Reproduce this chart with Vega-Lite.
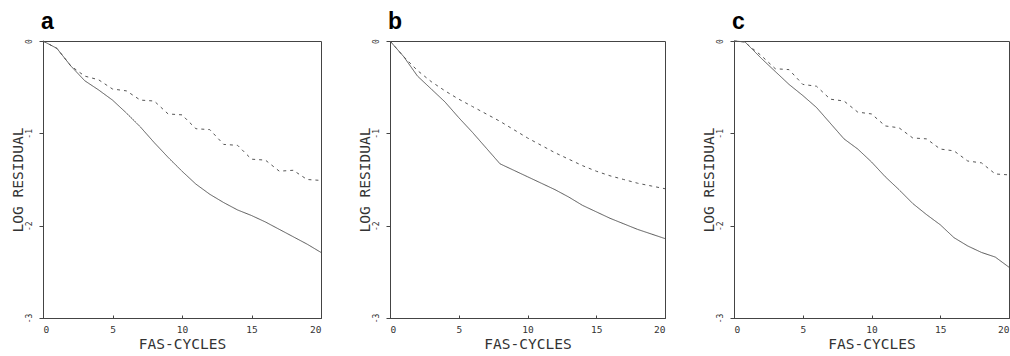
{
  "$schema": "https://vega.github.io/schema/vega-lite/v6.json",
  "padding": {"left": 10, "top": 10, "right": 0, "bottom": 0},
  "background": "white",
  "datasets": {
    "residuals": [
      {"panel": "a", "curve": "solid", "cycle": 0, "log_residual": 0},
      {"panel": "a", "curve": "solid", "cycle": 1, "log_residual": -0.08},
      {"panel": "a", "curve": "solid", "cycle": 2, "log_residual": -0.27},
      {"panel": "a", "curve": "solid", "cycle": 3, "log_residual": -0.43},
      {"panel": "a", "curve": "solid", "cycle": 4, "log_residual": -0.53},
      {"panel": "a", "curve": "solid", "cycle": 5, "log_residual": -0.64},
      {"panel": "a", "curve": "solid", "cycle": 6, "log_residual": -0.78},
      {"panel": "a", "curve": "solid", "cycle": 7, "log_residual": -0.93},
      {"panel": "a", "curve": "solid", "cycle": 8, "log_residual": -1.10},
      {"panel": "a", "curve": "solid", "cycle": 9, "log_residual": -1.26},
      {"panel": "a", "curve": "solid", "cycle": 10, "log_residual": -1.41},
      {"panel": "a", "curve": "solid", "cycle": 11, "log_residual": -1.55},
      {"panel": "a", "curve": "solid", "cycle": 12, "log_residual": -1.66},
      {"panel": "a", "curve": "solid", "cycle": 13, "log_residual": -1.75},
      {"panel": "a", "curve": "solid", "cycle": 14, "log_residual": -1.83},
      {"panel": "a", "curve": "solid", "cycle": 15, "log_residual": -1.89},
      {"panel": "a", "curve": "solid", "cycle": 16, "log_residual": -1.96},
      {"panel": "a", "curve": "solid", "cycle": 17, "log_residual": -2.04},
      {"panel": "a", "curve": "solid", "cycle": 18, "log_residual": -2.12},
      {"panel": "a", "curve": "solid", "cycle": 19, "log_residual": -2.20},
      {"panel": "a", "curve": "solid", "cycle": 20, "log_residual": -2.29},
      {"panel": "a", "curve": "dashed", "cycle": 0, "log_residual": 0},
      {"panel": "a", "curve": "dashed", "cycle": 1, "log_residual": -0.08},
      {"panel": "a", "curve": "dashed", "cycle": 2, "log_residual": -0.27},
      {"panel": "a", "curve": "dashed", "cycle": 3, "log_residual": -0.38},
      {"panel": "a", "curve": "dashed", "cycle": 4, "log_residual": -0.42},
      {"panel": "a", "curve": "dashed", "cycle": 5, "log_residual": -0.52},
      {"panel": "a", "curve": "dashed", "cycle": 6, "log_residual": -0.54},
      {"panel": "a", "curve": "dashed", "cycle": 7, "log_residual": -0.64},
      {"panel": "a", "curve": "dashed", "cycle": 8, "log_residual": -0.65},
      {"panel": "a", "curve": "dashed", "cycle": 9, "log_residual": -0.79},
      {"panel": "a", "curve": "dashed", "cycle": 10, "log_residual": -0.80},
      {"panel": "a", "curve": "dashed", "cycle": 11, "log_residual": -0.95},
      {"panel": "a", "curve": "dashed", "cycle": 12, "log_residual": -0.96},
      {"panel": "a", "curve": "dashed", "cycle": 13, "log_residual": -1.12},
      {"panel": "a", "curve": "dashed", "cycle": 14, "log_residual": -1.13},
      {"panel": "a", "curve": "dashed", "cycle": 15, "log_residual": -1.28},
      {"panel": "a", "curve": "dashed", "cycle": 16, "log_residual": -1.29},
      {"panel": "a", "curve": "dashed", "cycle": 17, "log_residual": -1.41},
      {"panel": "a", "curve": "dashed", "cycle": 18, "log_residual": -1.40},
      {"panel": "a", "curve": "dashed", "cycle": 19, "log_residual": -1.50},
      {"panel": "a", "curve": "dashed", "cycle": 20, "log_residual": -1.51},
      {"panel": "b", "curve": "solid", "cycle": 0, "log_residual": 0},
      {"panel": "b", "curve": "solid", "cycle": 1, "log_residual": -0.17},
      {"panel": "b", "curve": "solid", "cycle": 2, "log_residual": -0.38},
      {"panel": "b", "curve": "solid", "cycle": 3, "log_residual": -0.52},
      {"panel": "b", "curve": "solid", "cycle": 4, "log_residual": -0.66},
      {"panel": "b", "curve": "solid", "cycle": 5, "log_residual": -0.83},
      {"panel": "b", "curve": "solid", "cycle": 6, "log_residual": -0.99},
      {"panel": "b", "curve": "solid", "cycle": 7, "log_residual": -1.16},
      {"panel": "b", "curve": "solid", "cycle": 8, "log_residual": -1.33},
      {"panel": "b", "curve": "solid", "cycle": 9, "log_residual": -1.40},
      {"panel": "b", "curve": "solid", "cycle": 10, "log_residual": -1.47},
      {"panel": "b", "curve": "solid", "cycle": 11, "log_residual": -1.54},
      {"panel": "b", "curve": "solid", "cycle": 12, "log_residual": -1.61},
      {"panel": "b", "curve": "solid", "cycle": 13, "log_residual": -1.69},
      {"panel": "b", "curve": "solid", "cycle": 14, "log_residual": -1.78},
      {"panel": "b", "curve": "solid", "cycle": 15, "log_residual": -1.85},
      {"panel": "b", "curve": "solid", "cycle": 16, "log_residual": -1.92},
      {"panel": "b", "curve": "solid", "cycle": 17, "log_residual": -1.98},
      {"panel": "b", "curve": "solid", "cycle": 18, "log_residual": -2.04},
      {"panel": "b", "curve": "solid", "cycle": 19, "log_residual": -2.09},
      {"panel": "b", "curve": "solid", "cycle": 20, "log_residual": -2.14},
      {"panel": "b", "curve": "dashed", "cycle": 0, "log_residual": 0},
      {"panel": "b", "curve": "dashed", "cycle": 1, "log_residual": -0.17},
      {"panel": "b", "curve": "dashed", "cycle": 2, "log_residual": -0.32},
      {"panel": "b", "curve": "dashed", "cycle": 3, "log_residual": -0.44},
      {"panel": "b", "curve": "dashed", "cycle": 4, "log_residual": -0.54},
      {"panel": "b", "curve": "dashed", "cycle": 5, "log_residual": -0.63},
      {"panel": "b", "curve": "dashed", "cycle": 6, "log_residual": -0.71},
      {"panel": "b", "curve": "dashed", "cycle": 7, "log_residual": -0.79},
      {"panel": "b", "curve": "dashed", "cycle": 8, "log_residual": -0.87},
      {"panel": "b", "curve": "dashed", "cycle": 9, "log_residual": -0.96},
      {"panel": "b", "curve": "dashed", "cycle": 10, "log_residual": -1.05},
      {"panel": "b", "curve": "dashed", "cycle": 11, "log_residual": -1.13},
      {"panel": "b", "curve": "dashed", "cycle": 12, "log_residual": -1.21},
      {"panel": "b", "curve": "dashed", "cycle": 13, "log_residual": -1.28},
      {"panel": "b", "curve": "dashed", "cycle": 14, "log_residual": -1.35},
      {"panel": "b", "curve": "dashed", "cycle": 15, "log_residual": -1.41},
      {"panel": "b", "curve": "dashed", "cycle": 16, "log_residual": -1.46},
      {"panel": "b", "curve": "dashed", "cycle": 17, "log_residual": -1.50},
      {"panel": "b", "curve": "dashed", "cycle": 18, "log_residual": -1.54},
      {"panel": "b", "curve": "dashed", "cycle": 19, "log_residual": -1.57},
      {"panel": "b", "curve": "dashed", "cycle": 20, "log_residual": -1.60},
      {"panel": "c", "curve": "solid", "cycle": 0, "log_residual": 0},
      {"panel": "c", "curve": "solid", "cycle": 0.8, "log_residual": -0.01},
      {"panel": "c", "curve": "solid", "cycle": 1, "log_residual": -0.04},
      {"panel": "c", "curve": "solid", "cycle": 2, "log_residual": -0.19},
      {"panel": "c", "curve": "solid", "cycle": 3, "log_residual": -0.33},
      {"panel": "c", "curve": "solid", "cycle": 4, "log_residual": -0.47},
      {"panel": "c", "curve": "solid", "cycle": 5, "log_residual": -0.59},
      {"panel": "c", "curve": "solid", "cycle": 6, "log_residual": -0.72},
      {"panel": "c", "curve": "solid", "cycle": 7, "log_residual": -0.89},
      {"panel": "c", "curve": "solid", "cycle": 8, "log_residual": -1.06},
      {"panel": "c", "curve": "solid", "cycle": 9, "log_residual": -1.17},
      {"panel": "c", "curve": "solid", "cycle": 10, "log_residual": -1.31},
      {"panel": "c", "curve": "solid", "cycle": 11, "log_residual": -1.47},
      {"panel": "c", "curve": "solid", "cycle": 12, "log_residual": -1.61},
      {"panel": "c", "curve": "solid", "cycle": 13, "log_residual": -1.76},
      {"panel": "c", "curve": "solid", "cycle": 14, "log_residual": -1.88},
      {"panel": "c", "curve": "solid", "cycle": 15, "log_residual": -1.99},
      {"panel": "c", "curve": "solid", "cycle": 16, "log_residual": -2.13},
      {"panel": "c", "curve": "solid", "cycle": 17, "log_residual": -2.22},
      {"panel": "c", "curve": "solid", "cycle": 18, "log_residual": -2.29},
      {"panel": "c", "curve": "solid", "cycle": 19, "log_residual": -2.34},
      {"panel": "c", "curve": "solid", "cycle": 20, "log_residual": -2.45},
      {"panel": "c", "curve": "dashed", "cycle": 0, "log_residual": 0},
      {"panel": "c", "curve": "dashed", "cycle": 0.8, "log_residual": -0.01},
      {"panel": "c", "curve": "dashed", "cycle": 1, "log_residual": -0.04},
      {"panel": "c", "curve": "dashed", "cycle": 2, "log_residual": -0.16},
      {"panel": "c", "curve": "dashed", "cycle": 3, "log_residual": -0.30},
      {"panel": "c", "curve": "dashed", "cycle": 4, "log_residual": -0.31},
      {"panel": "c", "curve": "dashed", "cycle": 5, "log_residual": -0.47},
      {"panel": "c", "curve": "dashed", "cycle": 6, "log_residual": -0.49},
      {"panel": "c", "curve": "dashed", "cycle": 7, "log_residual": -0.63},
      {"panel": "c", "curve": "dashed", "cycle": 8, "log_residual": -0.65},
      {"panel": "c", "curve": "dashed", "cycle": 9, "log_residual": -0.77},
      {"panel": "c", "curve": "dashed", "cycle": 10, "log_residual": -0.79},
      {"panel": "c", "curve": "dashed", "cycle": 11, "log_residual": -0.92},
      {"panel": "c", "curve": "dashed", "cycle": 12, "log_residual": -0.94},
      {"panel": "c", "curve": "dashed", "cycle": 13, "log_residual": -1.05},
      {"panel": "c", "curve": "dashed", "cycle": 14, "log_residual": -1.06},
      {"panel": "c", "curve": "dashed", "cycle": 15, "log_residual": -1.17},
      {"panel": "c", "curve": "dashed", "cycle": 16, "log_residual": -1.19},
      {"panel": "c", "curve": "dashed", "cycle": 17, "log_residual": -1.30},
      {"panel": "c", "curve": "dashed", "cycle": 18, "log_residual": -1.32},
      {"panel": "c", "curve": "dashed", "cycle": 19, "log_residual": -1.44},
      {"panel": "c", "curve": "dashed", "cycle": 20, "log_residual": -1.45}
    ]
  },
  "data": {"name": "residuals"},
  "bounds": "flush",
  "spacing": 69,
  "hconcat": [
    {
      "title": {"text": "a"},
      "width": 278,
      "height": 277,
      "transform": [{"filter": "datum.panel == 'a'"}],
      "mark": {"type": "line", "strokeWidth": 1, "color": "#555"},
      "encoding": {
        "x": {"field": "cycle", "type": "quantitative", "title": "FAS-CYCLES", "scale": {"domain": [0, 20], "nice": false}, "axis": {"values": [0, 5, 10, 15, 20]}},
        "y": {"field": "log_residual", "type": "quantitative", "title": "LOG RESIDUAL", "scale": {"domain": [-3, 0], "nice": false}, "axis": {"values": [-3, -2, -1, 0]}},
        "strokeDash": {"field": "curve", "type": "nominal", "scale": {"domain": ["solid", "dashed"], "range": [[1, 0], [3, 4]]}, "legend": null}
      }
    },
    {
      "title": {"text": "b"},
      "width": 275,
      "height": 277,
      "transform": [{"filter": "datum.panel == 'b'"}],
      "mark": {"type": "line", "strokeWidth": 1, "color": "#555"},
      "encoding": {
        "x": {"field": "cycle", "type": "quantitative", "title": "FAS-CYCLES", "scale": {"domain": [0, 20], "nice": false}, "axis": {"values": [0, 5, 10, 15, 20]}},
        "y": {"field": "log_residual", "type": "quantitative", "title": "LOG RESIDUAL", "scale": {"domain": [-3, 0], "nice": false}, "axis": {"values": [-3, -2, -1, 0]}},
        "strokeDash": {"field": "curve", "type": "nominal", "scale": {"domain": ["solid", "dashed"], "range": [[1, 0], [3, 4]]}, "legend": null}
      }
    },
    {
      "title": {"text": "c"},
      "width": 275,
      "height": 277,
      "transform": [{"filter": "datum.panel == 'c'"}],
      "mark": {"type": "line", "strokeWidth": 1, "color": "#555"},
      "encoding": {
        "x": {"field": "cycle", "type": "quantitative", "title": "FAS-CYCLES", "scale": {"domain": [0, 20], "nice": false}, "axis": {"values": [0, 5, 10, 15, 20]}},
        "y": {"field": "log_residual", "type": "quantitative", "title": "LOG RESIDUAL", "scale": {"domain": [-3, 0], "nice": false}, "axis": {"values": [-3, -2, -1, 0]}},
        "strokeDash": {"field": "curve", "type": "nominal", "scale": {"domain": ["solid", "dashed"], "range": [[1, 0], [3, 4]]}, "legend": null}
      }
    }
  ],
  "resolve": {"scale": {"strokeDash": "shared"}},
  "config": {
    "view": {"stroke": "#444", "strokeWidth": 1},
    "title": {"anchor": "start", "frame": "group", "font": "Liberation Sans", "fontSize": 23, "fontWeight": "bold", "color": "#000", "offset": 5, "dx": -2},
    "axis": {
      "grid": false,
      "domainColor": "#444",
      "tickColor": "#444",
      "labelFont": "DejaVu Sans Mono",
      "labelColor": "#333",
      "titleFont": "DejaVu Sans Mono",
      "titleFontSize": 14.5,
      "titleFontWeight": "normal",
      "titleColor": "#333",
      "labelExpr": "replace(datum.label, '\u2212', '-')"
    },
    "axisX": {"tickSize": -3, "labelFontSize": 9.5, "labelPadding": 9, "titlePadding": 4},
    "axisY": {"tickSize": 4, "labelFontSize": 8, "labelAngle": -90, "labelPadding": 9.5, "labelAlign": "center", "labelBaseline": "middle", "titleX": -24.5, "titleBaseline": "middle"}
  }
}
